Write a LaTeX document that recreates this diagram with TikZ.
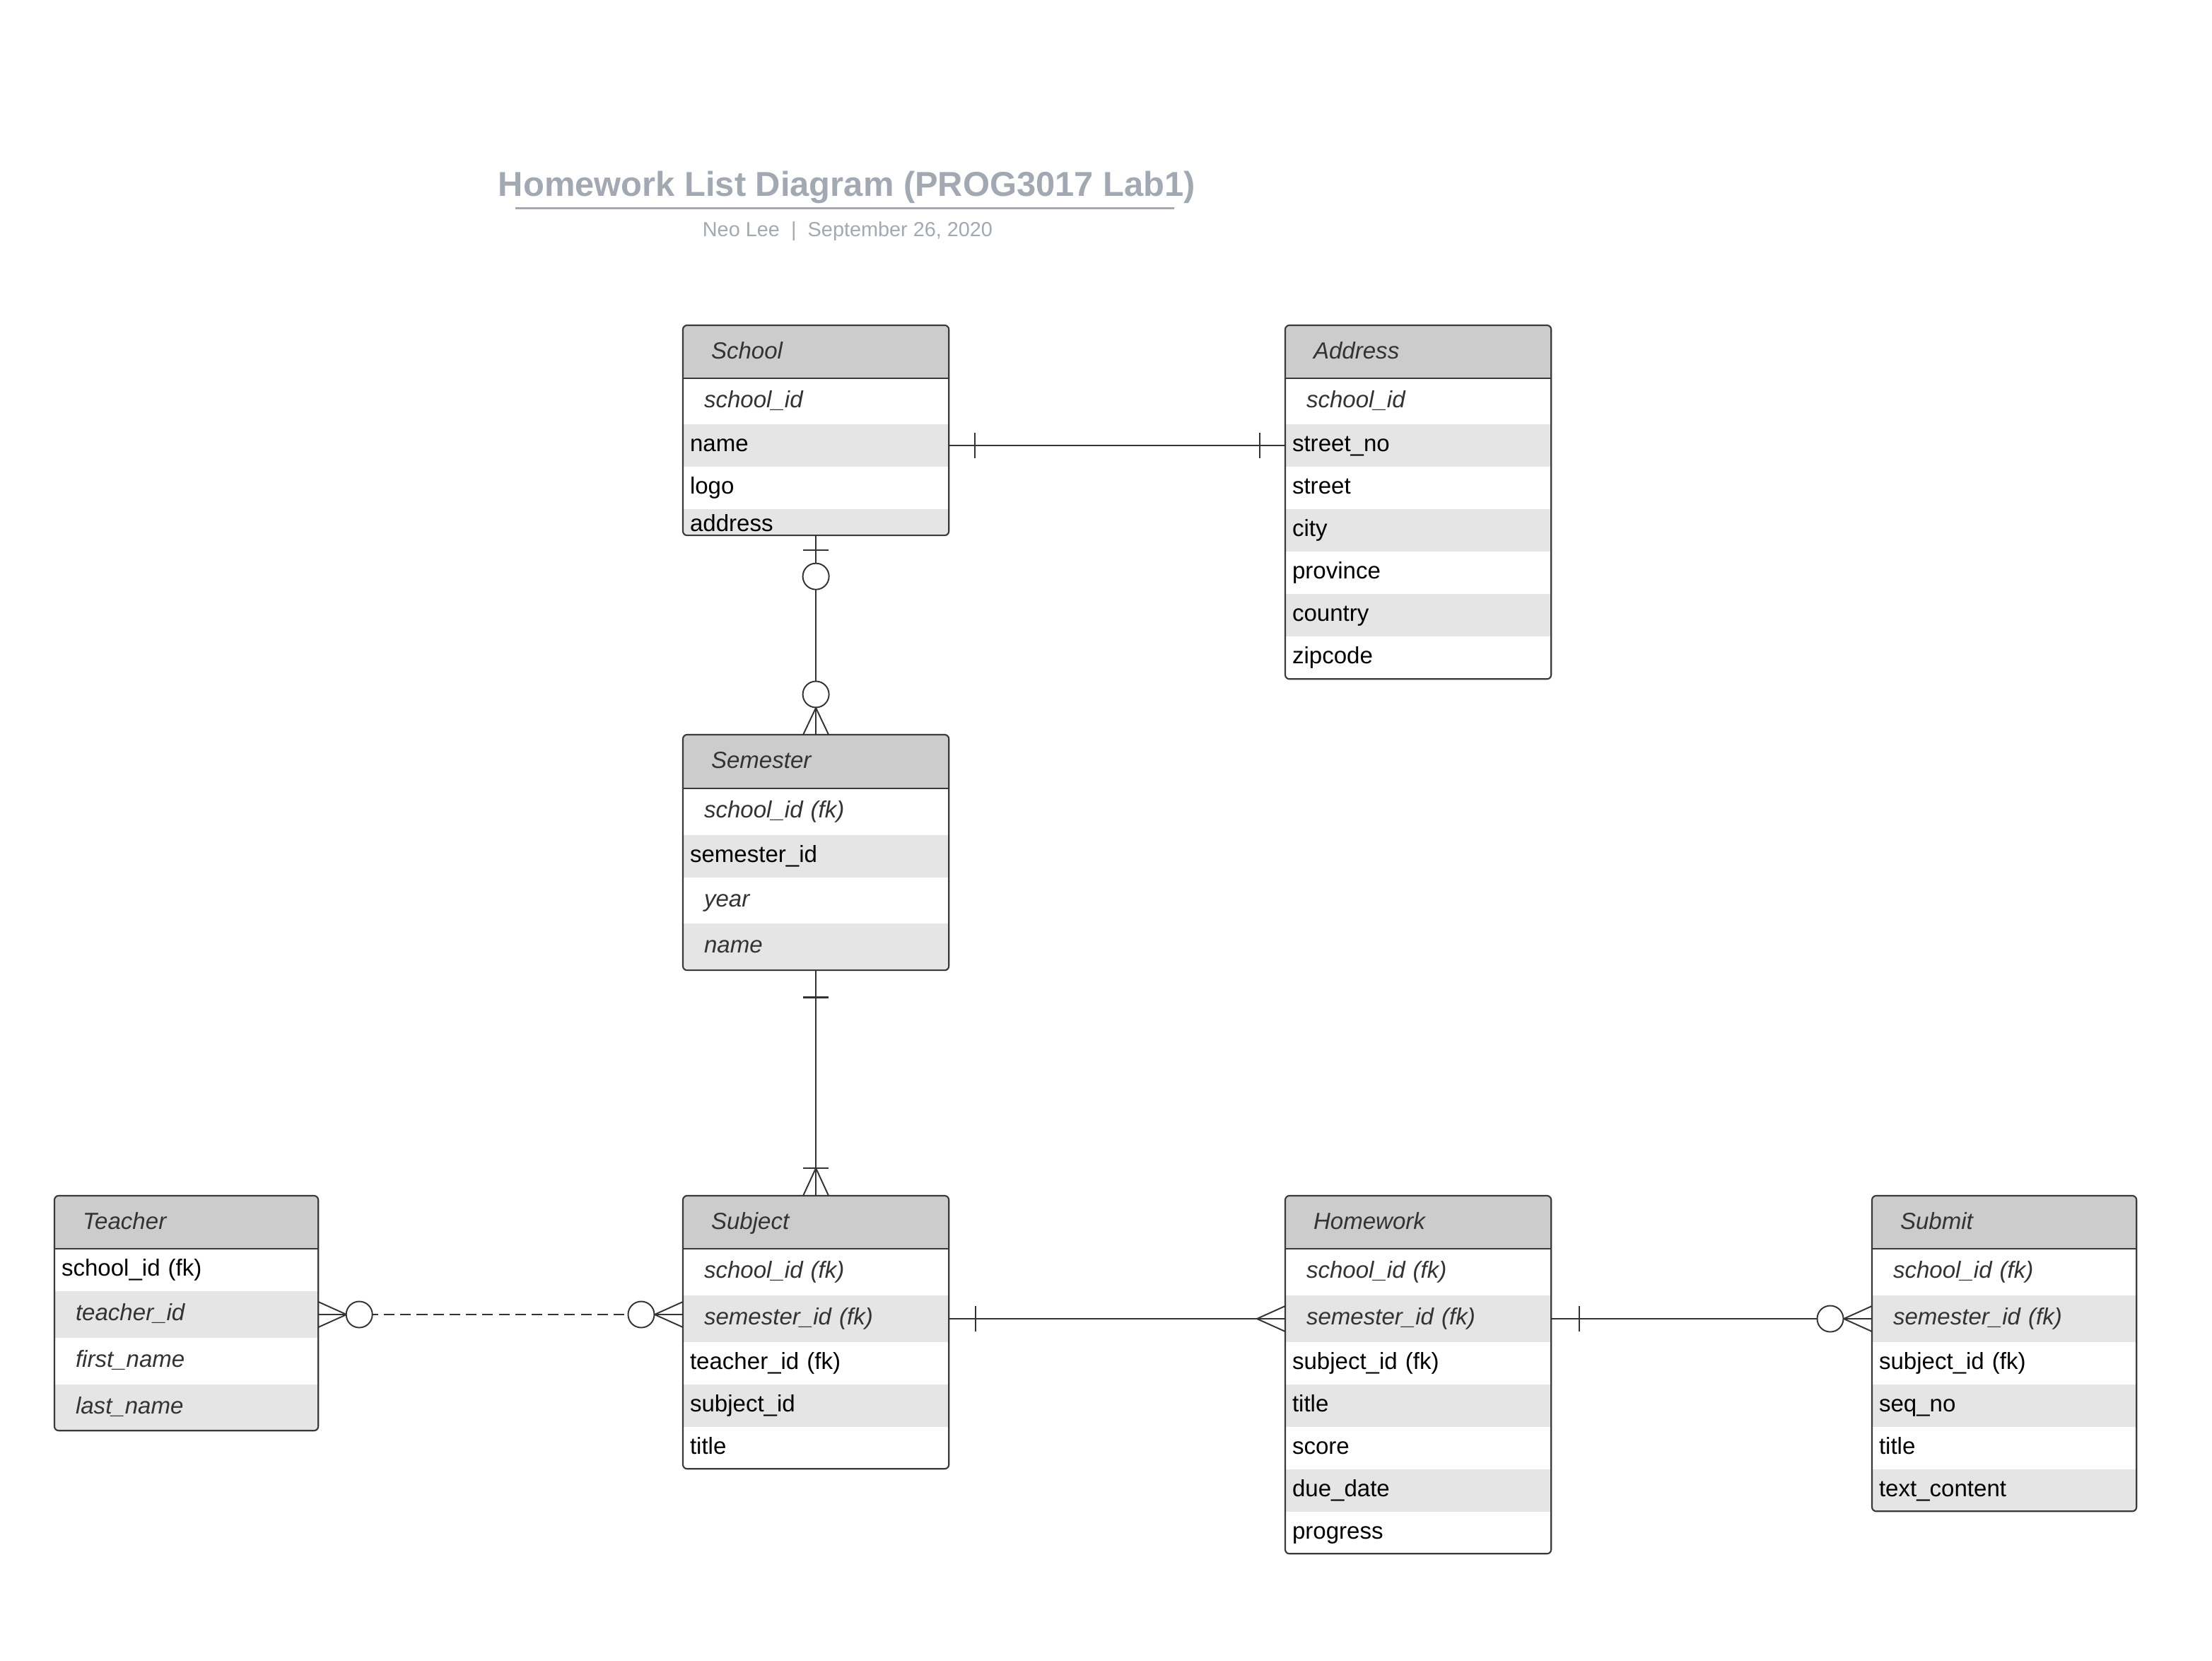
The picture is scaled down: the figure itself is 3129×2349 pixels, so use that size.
\documentclass[tikz,border=0pt]{standalone}
\usepackage{fontspec}
\setmainfont{Liberation Sans}
\usetikzlibrary{calc}
\definecolor{hdrfill}{HTML}{CCCCCC}
\definecolor{rowgrey}{HTML}{E5E5E5}
\definecolor{framec}{HTML}{3A3A3A}
\definecolor{txtgrey}{HTML}{333333}
\definecolor{titlec}{HTML}{A3A9B3}
\definecolor{linec}{HTML}{333333}
\newcommand\bodyfont{\fontsize{9.4}{11.3}\selectfont}
\tikzset{
 rowbase/.style={anchor=north west, inner ysep=0pt, outer sep=0pt, align=left, text height=6.9pt, text depth=2.0pt},
 itW/.style={rowbase, fill=white, inner xsep=0.3cm, text width=\twi cm, font=\bodyfont\itshape, text=txtgrey},
 itG/.style={itW, fill=rowgrey},
 plW/.style={rowbase, fill=white, inner xsep=0.1cm, text width=\twp cm, font=\bodyfont, text=black},
 plG/.style={plW, fill=rowgrey},
 plGlow/.style={plG, text height=7.3pt, text depth=0pt},
 hdr/.style={anchor=north west, inner ysep=0pt, outer sep=0pt, align=left, fill=hdrfill, inner xsep=0.4cm, text width=\twh cm, font=\bodyfont\itshape, text=txtgrey, text height=6.9pt, text depth=1.5pt},
 tframe/.style={draw=framec, line width=0.6pt},
 tblframe/.style={anchor=north west, tframe, rounded corners=0.06cm, inner sep=0pt, outer sep=0pt},
 conn/.style={draw=linec, line width=0.55pt},
}
\newcommand\ertable[8]{%
 \pgfmathsetmacro\tw{(#4-#2)/100}%
 \pgfmathsetmacro\twi{\tw-0.6}%
 \pgfmathsetmacro\twp{\tw-0.2}%
 \pgfmathsetmacro\twh{\tw-0.8}%
 \pgfmathsetmacro\hh{(#5-#3)/100}%
 \pgfmathsetmacro\tbh{(#6-#3)/100}%
 \begin{scope}
  \clip[rounded corners=0.06cm] (#2,#3) rectangle (#4,#6);
  \node[hdr, minimum width=\tw cm, minimum height=\hh cm] (#1-hdr) at (#2,#3) {#7};
  \foreach \rt/\rb/\st/\nm/\txt in {#8}{%
   \pgfmathsetmacro\rh{(\rb-\rt)/100}%
   \node[\st, minimum width=\tw cm, minimum height=\rh cm] (#1-\nm) at (#2,\rt) {\txt};
  }
 \end{scope}
 \node[tblframe, minimum width=\tw cm, minimum height=\tbh cm] (#1) at (#2,#3) {};
 \draw[tframe] (#1-hdr.south west) -- (#1-hdr.south east);
}
\begin{document}
\begin{tikzpicture}[x=0.01cm, y=-0.01cm]
\fill[white] (0,0) rectangle (3129,2349);
\useasboundingbox (0,0) rectangle (3129,2349);

% title
\node[font=\bfseries\fontsize{13.9}{16}\selectfont, text=titlec, anchor=base, inner sep=0pt] (title) at (1198,278) {Homework List Diagram (PROG3017 Lab1)};
\draw[titlec, line width=0.85pt] (729,295) -- (1661,295);
\node[font=\fontsize{8.2}{10}\selectfont, text=titlec, anchor=base, inner sep=0pt] (subtitle) at (1199,335) {Neo Lee\hspace{4.6pt}|\hspace{4.6pt}September 26, 2020};

% tables
\ertable{school}{966}{460}{1342}{535}{757}{School}{535/600/itW/id/school\_id, 600/660/plG/name/name, 660/720/plW/logo/logo, 720/757/plGlow/address/address}
\ertable{address}{1818}{460}{2194}{535}{960}{Address}{535/600/itW/id/school\_id, 600/660/plG/streetno/street\_no, 660/720/plW/street/street, 720/780/plG/city/city, 780/840/plW/province/province, 840/900/plG/country/country, 900/960/plW/zipcode/zipcode}
\ertable{semester}{966}{1039}{1342}{1115}{1372}{Semester}{1115/1181/itW/schoolid/school\_id (fk), 1181/1241/plG/semesterid/semester\_id, 1241/1306/itW/year/year, 1306/1372/itG/name/name}
\ertable{teacher}{77}{1691}{450}{1766}{2023}{Teacher}{1766/1826/plW/schoolid/school\_id (fk), 1826/1892/itG/teacherid/teacher\_id, 1892/1958/itW/firstname/first\_name, 1958/2023/itG/lastname/last\_name}
\ertable{subject}{966}{1691}{1342}{1766}{2077}{Subject}{1766/1832/itW/schoolid/school\_id (fk), 1832/1898/itG/semesterid/semester\_id (fk), 1898/1958/plW/teacherid/teacher\_id (fk), 1958/2018/plG/subjectid/subject\_id, 2018/2077/plW/title/title}
\ertable{homework}{1818}{1691}{2194}{1766}{2197}{Homework}{1766/1832/itW/schoolid/school\_id (fk), 1832/1898/itG/semesterid/semester\_id (fk), 1898/1958/plW/subjectid/subject\_id (fk), 1958/2018/plG/title/title, 2018/2078/plW/score/score, 2078/2138/plG/duedate/due\_date, 2138/2197/plW/progress/progress}
\ertable{submit}{2648}{1691}{3022}{1766}{2137}{Submit}{1766/1832/itW/schoolid/school\_id (fk), 1832/1898/itG/semesterid/semester\_id (fk), 1898/1958/plW/subjectid/subject\_id (fk), 1958/2018/plG/seqno/seq\_no, 2018/2078/plW/title/title, 2078/2137/plG/textcontent/text\_content}

% School - Address (one to one)
\draw[conn] (school-name.east) -- (address-streetno.west);
\draw[conn] ($(school-name.east)+(37,-18)$) -- ++(0,36);
\draw[conn] ($(address-streetno.west)+(-36,-18)$) -- ++(0,36);

% School - Semester
\draw[conn] (school.south) -- (semester.north);
\draw[conn] ($(school.south)+(-18,21)$) -- ++(36,0);
\draw[conn,fill=white] ($(school.south)+(0,58)$) circle[radius=0.185cm];
\draw[conn,fill=white] ($(semester.north)+(0,-57)$) circle[radius=0.185cm];
\draw[conn] ($(semester.north)+(-18,0)$) -- ($(semester.north)+(0,-38)$) -- ($(semester.north)+(18,0)$);

% Semester - Subject
\draw[conn] (semester.south) -- (subject.north);
\draw[conn,line width=0.9pt] ($(semester.south)+(-18,38)$) -- ++(36,0);
\draw[conn] ($(subject.north)+(-18,-39)$) -- ++(36,0);
\draw[conn] ($(subject.north)+(-18,0)$) -- ($(subject.north)+(0,-39)$) -- ($(subject.north)+(18,0)$);

% Teacher - Subject (dashed)
\coordinate (tsR) at (teacher-teacherid.east -| subject.west);
\draw[conn,dash pattern=on 4.3pt off 2.3pt] (teacher-teacherid.east) -- (tsR);
\draw[conn] (teacher-teacherid.east) -- ++(40,0);
\draw[conn] (tsR) -- ++(-40,0);
\draw[conn] ($(teacher-teacherid.east)+(0,-18)$) -- ($(teacher-teacherid.east)+(40,0)$) -- ($(teacher-teacherid.east)+(0,18)$);
\draw[conn] ($(tsR)+(0,-18)$) -- ($(tsR)+(-40,0)$) -- ($(tsR)+(0,18)$);
\draw[conn,fill=white] ($(teacher-teacherid.east)+(58,0)$) circle[radius=0.185cm];
\draw[conn,fill=white] ($(tsR)+(-59,0)$) circle[radius=0.185cm];

% Subject - Homework
\draw[conn] (subject-semesterid.east) -- (homework-semesterid.west);
\draw[conn] ($(subject-semesterid.east)+(38,-18)$) -- ++(0,36);
\draw[conn] ($(homework-semesterid.west)+(0,-18)$) -- ($(homework-semesterid.west)+(-40,0)$) -- ($(homework-semesterid.west)+(0,18)$);

% Homework - Submit
\draw[conn] (homework-semesterid.east) -- (submit-semesterid.west);
\draw[conn] ($(homework-semesterid.east)+(40,-18)$) -- ++(0,36);
\draw[conn] ($(submit-semesterid.west)+(0,-18)$) -- ($(submit-semesterid.west)+(-40,0)$) -- ($(submit-semesterid.west)+(0,18)$);
\draw[conn,fill=white] ($(submit-semesterid.west)+(-59,0)$) circle[radius=0.185cm];
\end{tikzpicture}
\end{document}
